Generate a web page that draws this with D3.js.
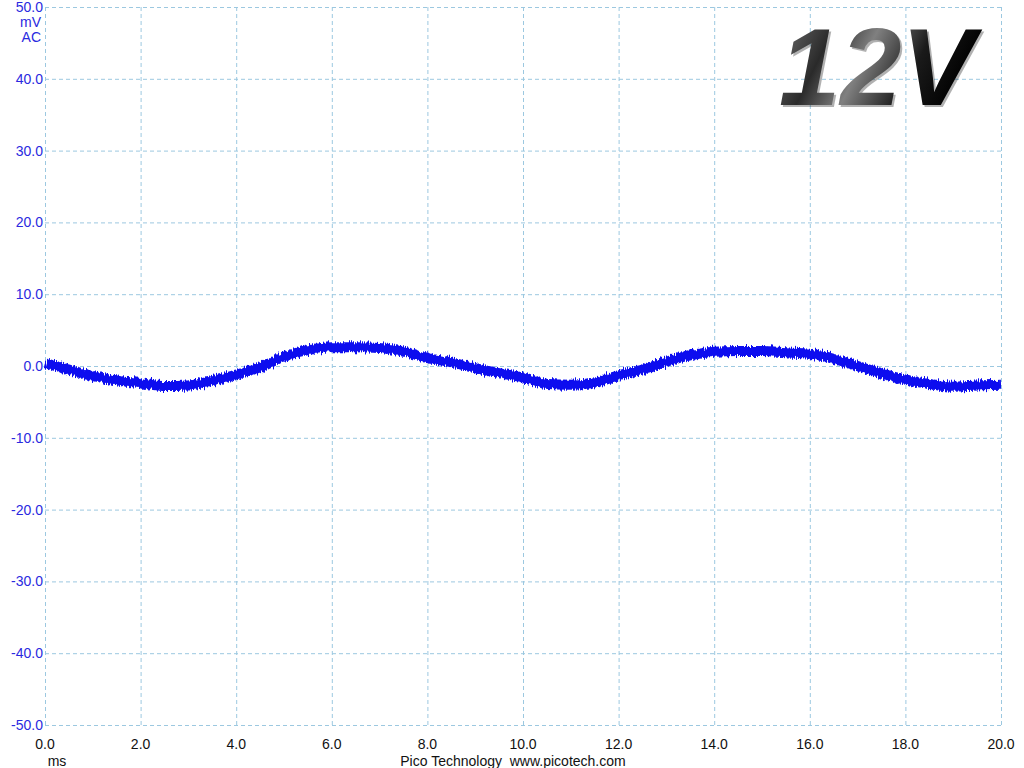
<!DOCTYPE html>
<html><head><meta charset="utf-8">
<script src="https://cdn.jsdelivr.net/npm/d3@7"></script>
<style>body{margin:0;background:#fff}svg{display:block}</style>
</head><body>
<script>
const timeMs = [0,0.5,1,1.5,2,2.5,3,3.5,4,4.5,5,5.5,6,6.5,7,7.5,8,8.5,9,9.5,10,10.5,11,11.5,12,12.5,13,13.5,14,14.5,15,15.5,16,16.5,17,17.5,18,18.5,19,19.5,20];
const voltageMv = [0.4,-0.5,-1.4,-2.0,-2.4,-2.8,-2.7,-2.1,-1.2,-0.2,1.3,2.2,2.6,2.6,2.5,2.0,1.1,0.5,-0.3,-1.0,-1.6,-2.5,-2.6,-2.3,-1.3,-0.5,0.6,1.5,2.0,2.1,2.1,1.9,1.7,1.0,0.0,-1.0,-1.9,-2.5,-2.9,-2.7,-2.6];
const xTicks = [0,2,4,6,8,10,12,14,16,18,20];
const yTicks = [50,40,30,20,10,0,-10,-20,-30,-40,-50];
const unitLabels = ["mV","AC"];
const xUnit = "ms";
const footer = "Pico Technology  www.picotech.com";
const badge = "12V";

const W=1024,H=768;
const FONT="Liberation Sans, Arial, sans-serif";
const svg=d3.select("body").append("svg").attr("width",W).attr("height",H);
const x=d3.scaleLinear().domain([0,20]).range([45,1001]);
const y=d3.scaleLinear().domain([-50,50]).range([725,7]);
const gridCol="#9cc8e0";

const defs=svg.append("defs");
const gr=defs.append("linearGradient").attr("id","g12").attr("x1","0").attr("y1","0").attr("x2","1").attr("y2","0.3");
gr.append("stop").attr("offset","0%").attr("stop-color","#7a7a7a");
gr.append("stop").attr("offset","30%").attr("stop-color","#2a2a2a");
gr.append("stop").attr("offset","50%").attr("stop-color","#808080");
gr.append("stop").attr("offset","75%").attr("stop-color","#1a1a1a");
gr.append("stop").attr("offset","100%").attr("stop-color","#000");

const f=defs.append("filter").attr("id","noisy").attr("x","-2%").attr("y","-50%").attr("width","104%").attr("height","200%");
f.append("feTurbulence").attr("type","fractalNoise").attr("baseFrequency","0.9 0.03").attr("numOctaves",2).attr("seed",3).attr("result","t");
f.append("feDisplacementMap").attr("in","SourceGraphic").attr("in2","t").attr("scale",7).attr("xChannelSelector","A").attr("yChannelSelector","R");

// grid
svg.append("g").selectAll("line").data(xTicks).join("line")
  .attr("x1",d=>x(d)+0.5).attr("x2",d=>x(d)+0.5).attr("y1",y(50)).attr("y2",y(-50))
  .attr("stroke",gridCol).attr("stroke-dasharray","4,3").attr("stroke-width",1);
svg.append("g").selectAll("line").data(yTicks).join("line")
  .attr("y1",d=>y(d)+0.5).attr("y2",d=>y(d)+0.5).attr("x1",x(0)).attr("x2",x(20))
  .attr("stroke",gridCol).attr("stroke-dasharray","4,3").attr("stroke-width",1);

// y labels
svg.append("g").selectAll("text").data(yTicks).join("text")
  .attr("x",43).attr("y",d=>y(d)+5).attr("text-anchor","end")
  .attr("font-family",FONT).attr("font-size",14)
  .attr("fill","#2a2ae0").text(d=>d.toFixed(1));
svg.append("g").selectAll("text").data(unitLabels).join("text")
  .attr("x",41).attr("y",(d,i)=>27+i*15).attr("text-anchor","end")
  .attr("font-family",FONT).attr("font-size",14)
  .attr("fill","#2a2ae0").text(d=>d);

// x labels
svg.append("g").selectAll("text").data(xTicks).join("text")
  .attr("x",d=>x(d)).attr("y",749).attr("text-anchor","middle")
  .attr("font-family",FONT).attr("font-size",14)
  .attr("fill","#111").text(d=>d.toFixed(1));
svg.append("text").attr("x",57).attr("y",766).attr("text-anchor","middle")
  .attr("font-family",FONT).attr("font-size",14).attr("fill","#111").text(xUnit);
svg.append("text").attr("x",513).attr("y",766).attr("text-anchor","middle").attr("xml:space","preserve")
  .attr("font-family",FONT).attr("font-size",14).attr("fill","#111").text(footer);

// trace
const pts=timeMs.map((t,i)=>[t,voltageMv[i]]);
const line=d3.line().x(d=>x(d[0])).y(d=>y(d[1])).curve(d3.curveMonotoneX);
svg.append("path").datum(pts).attr("d",line).attr("fill","none")
  .attr("stroke","#0a0aef").attr("stroke-width",10).attr("stroke-linejoin","round")
  .attr("filter","url(#noisy)");

// badge
svg.append("text").attr("x",779).attr("y",105).text(badge)
  .attr("font-family",FONT).attr("font-size",110)
  .attr("font-weight","bold").attr("font-style","italic").attr("fill","#000").attr("opacity",0.3)
  .attr("transform","translate(2,2)");
svg.append("text").attr("x",779).attr("y",105).text(badge)
  .attr("font-family",FONT).attr("font-size",110)
  .attr("font-weight","bold").attr("font-style","italic").attr("fill","url(#g12)");
</script>
</body></html>
